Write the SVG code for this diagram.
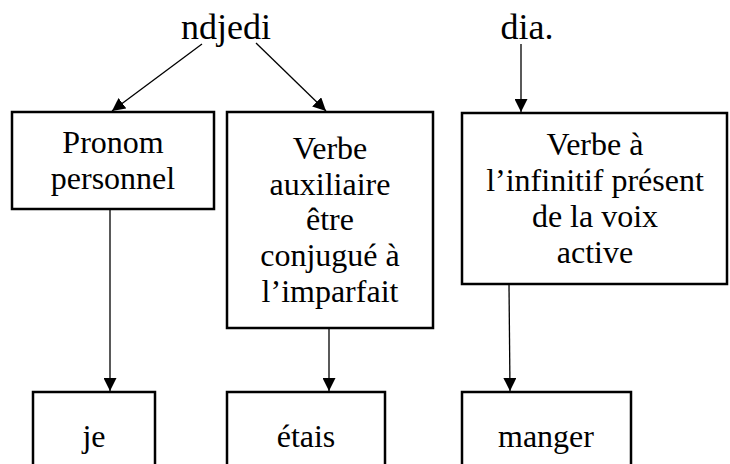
<svg xmlns="http://www.w3.org/2000/svg" width="730" height="464" viewBox="0 0 730 464">
<defs>
<style>
.box{fill:#fff;stroke:#000;stroke-width:2.5}
.t{font-family:"Liberation Serif","Times New Roman",serif;font-size:32px;fill:#000;text-anchor:middle}
.h{font-family:"Liberation Serif","Times New Roman",serif;font-size:36px;fill:#000;text-anchor:middle}
.c{stroke:#000;stroke-width:1.3;fill:none;marker-end:url(#ah)}
</style>
<marker id="ah" viewBox="0 0 10 10" refX="10" refY="5" markerWidth="13" markerHeight="13" markerUnits="userSpaceOnUse" orient="auto">
<path d="M0,0 L10,5 L0,10 z" fill="#000"/>
</marker>
</defs>
<g id="ndjedi"><text class="h" x="226" y="39">ndjedi</text></g>
<g id="dia"><text class="h" x="527" y="39">dia.</text></g>
<g id="n1"><rect class="box" x="12" y="112" width="202" height="97"/>
<text class="t" x="113" y="153">Pronom</text><text class="t" x="113" y="189">personnel</text></g>
<g id="n2"><rect class="box" x="227" y="112" width="206" height="216"/>
<text class="t" x="330" y="159">Verbe</text><text class="t" x="330" y="195">auxiliaire</text><text class="t" x="330" y="230">être</text><text class="t" x="330" y="266">conjugué à</text><text class="t" x="330" y="302">l’imparfait</text></g>
<g id="n3"><rect class="box" x="462" y="113" width="265" height="171"/>
<text class="t" x="595" y="155">Verbe à</text><text class="t" x="595" y="191">l’infinitif présent</text><text class="t" x="595" y="227">de la voix</text><text class="t" x="595" y="263">active</text></g>
<g id="n4"><rect class="box" x="33" y="392" width="122" height="80"/><text class="t" x="94" y="447">je</text></g>
<g id="n5"><rect class="box" x="227" y="392" width="158" height="80"/><text class="t" x="306" y="447">étais</text></g>
<g id="n6"><rect class="box" x="462" y="392" width="169" height="80"/><text class="t" x="546" y="447">manger</text></g>
<g id="connectors">
<line class="c" x1="202" y1="44" x2="112" y2="111"/>
<line class="c" x1="256" y1="43" x2="326" y2="111"/>
<line class="c" x1="521" y1="44" x2="521" y2="112"/>
<line class="c" x1="110" y1="210" x2="110" y2="391"/>
<line class="c" x1="329" y1="329" x2="329" y2="391"/>
<line class="c" x1="509" y1="285" x2="510" y2="391"/>
</g>
</svg>
